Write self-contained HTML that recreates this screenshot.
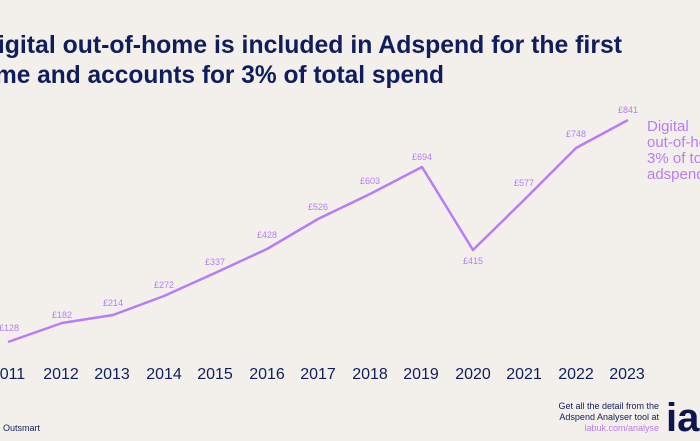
<!DOCTYPE html>
<html><head><meta charset="utf-8"><style>
html,body{margin:0;padding:0;background:#f3f0ec;}
svg{display:block;font-family:"Liberation Sans",sans-serif;}
</style></head><body>
<svg width="700" height="441" viewBox="0 0 700 441">
<rect width="700" height="441" fill="#f3f0ec"/>
<g fill="#101d5c" font-size="25" font-weight="bold">
<text x="-20" y="53" textLength="642" lengthAdjust="spacingAndGlyphs">Digital out-of-home is included in Adspend for the first</text>
<text x="-20" y="83" textLength="464" lengthAdjust="spacingAndGlyphs">time and accounts for 3% of total spend</text>
</g>
<polyline fill="none" stroke="#b77cf6" stroke-width="2.5" stroke-linejoin="round" points="8,342 62,323 113,315 164,296 215,273 267,249 318,219 370,194 422,167 473,250 524,200 576,148 628,120"/>
<g fill="#b77cf6" font-size="9" text-anchor="middle">
<text x="9" y="331">£128</text><text x="62" y="318">£182</text><text x="113" y="306">£214</text>
<text x="164" y="288">£272</text><text x="215" y="265">£337</text><text x="267" y="238">£428</text>
<text x="318" y="210">£526</text><text x="370" y="184">£603</text><text x="422" y="160">£694</text>
<text x="473" y="264">£415</text><text x="524" y="186">£577</text><text x="576" y="137">£748</text>
<text x="628" y="113">£841</text>
</g>
<g fill="#b77cf6" font-size="15">
<text x="647" y="131">Digital</text><text x="647" y="147">out-of-home</text>
<text x="647" y="163">3% of total</text><text x="647" y="179">adspend</text>
</g>
<g fill="#101d5c" font-size="16" text-anchor="middle">
<text x="8" y="379">2011</text><text x="61" y="379">2012</text><text x="112" y="379">2013</text>
<text x="164" y="379">2014</text><text x="215" y="379">2015</text><text x="267" y="379">2016</text>
<text x="318" y="379">2017</text><text x="370" y="379">2018</text><text x="421" y="379">2019</text>
<text x="473" y="379">2020</text><text x="524" y="379">2021</text><text x="576" y="379">2022</text>
<text x="627" y="379">2023</text>
</g>
<text x="3" y="431" font-size="9" fill="#101d5c">Outsmart</text>
<g font-size="9" text-anchor="end">
<text x="659" y="409" fill="#101d5c">Get all the detail from the</text>
<text x="659" y="420" fill="#101d5c">Adspend Analyser tool at</text>
<text x="659" y="431" fill="#b77cf6">labuk.com/analyse</text>
</g>
<text x="666" y="431" font-size="40" font-weight="bold" fill="#0d1650">ia</text>
</svg>
</body></html>
